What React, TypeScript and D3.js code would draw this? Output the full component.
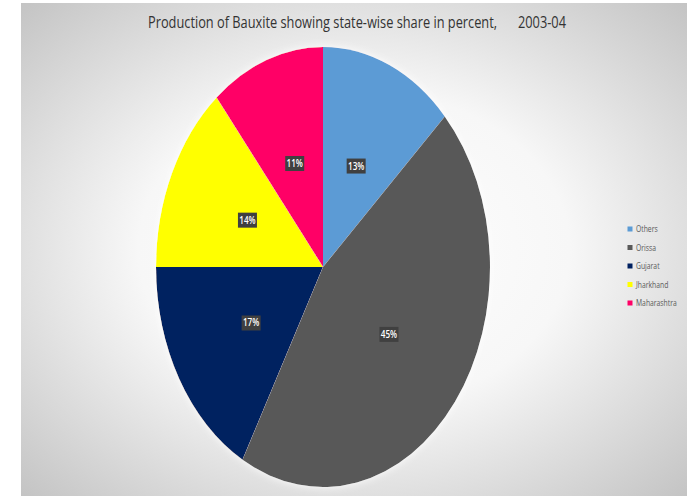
import React from "react";
import * as d3 from "d3";

const categories = ["Others", "Orissa", "Gujarat", "Jharkhand", "Maharashtra"];
const shares = [13, 45, 17, 14, 11];
const colors = ["#5b9bd5", "#595959", "#002060", "#ffff00", "#ff0066"];
const title = "Production of Bauxite showing state-wise share in percent,";
const titleYear = "2003-04";

const W = 687;
const H = 496;
const cx = 323;
const cy = 267;
const rx = 167;
const ry = 220;
const R = 100;

export default function App() {
  const pie = d3.pie<number>().sort(null).value((d) => d)(shares);
  const arc = d3.arc<d3.PieArcDatum<number>>().innerRadius(0).outerRadius(R);
  const font = "'Open Sans', sans-serif";
  const sx = 0.8;
  return (
    <svg
      width={W}
      height={H}
      style={{ position: "absolute", left: 0, top: 0, display: "block" }}
    >
      <defs>
        <radialGradient id="bg" cx="0.5" cy="0.5" r="0.72">
          <stop offset="0" stopColor="#ffffff" />
          <stop offset="0.45" stopColor="#f7f7f7" />
          <stop offset="1" stopColor="#c2c2c2" />
        </radialGradient>
        <filter id="glow" x="-10%" y="-10%" width="120%" height="120%">
          <feGaussianBlur in="SourceAlpha" stdDeviation="2" result="b" />
          <feFlood floodColor="#ffffff" floodOpacity="0.9" />
          <feComposite in2="b" operator="in" result="g" />
          <feMerge>
            <feMergeNode in="g" />
            <feMergeNode in="SourceGraphic" />
          </feMerge>
        </filter>
      </defs>
      <rect x={0} y={0} width={W} height={H} fill="#ffffff" />
      <rect x={21} y={3} width={W - 21} height={H - 3} fill="url(#bg)" />
      <g transform={`translate(148,28) scale(${sx},1)`}>
        <text x={0} y={0} fontFamily={font} fontSize={16} fill="#333333">
          {title}
        </text>
        <text x={(518 - 148) / sx} y={0} fontFamily={font} fontSize={16} fill="#333333">
          {titleYear}
        </text>
      </g>
      <g transform={`translate(${cx},${cy}) scale(${rx / R},${ry / R})`} filter="url(#glow)">
        {pie.map((d, i) => (
          <path key={i} d={arc(d) || ""} fill={colors[i]} />
        ))}
      </g>
      {pie.map((d, i) => {
        const [px, py] = arc.centroid(d);
        const x = cx + (px * rx) / R;
        const y = cy + (py * ry) / R;
        return (
          <g key={"l" + i} transform={`translate(${x},${y})`}>
            <rect x={-9.5} y={-7.5} width={19} height={15} fill="#404040" />
            <text
              x={0}
              y={3.5}
              textAnchor="middle"
              fontFamily={font}
              fontSize={10}
              fontWeight="600"
              fill="#ffffff"
              transform={`scale(0.82,1)`}
            >
              {shares[i] + "%"}
            </text>
          </g>
        );
      })}
      {categories.map((c, i) => (
        <g key={"g" + i} transform={`translate(630,${229 + i * 18.5})`}>
          <rect x={-2.5} y={-2.5} width={5} height={5} fill={colors[i]} />
          <text
            x={0}
            y={3}
            fontFamily={font}
            fontSize={8.5}
            fill="#595959"
            transform={`translate(6,0) scale(0.8,1)`}
          >
            {c}
          </text>
        </g>
      ))}
    </svg>
  );
}
